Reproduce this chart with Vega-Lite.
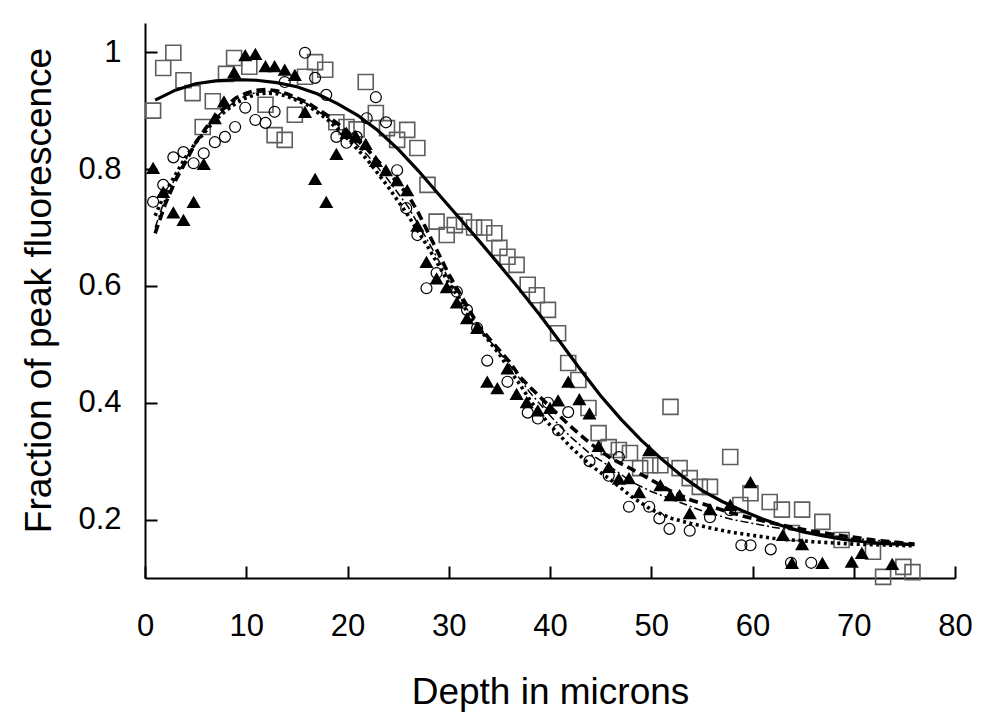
{
"$schema": "https://vega.github.io/schema/vega-lite/v6.json",
"width": 810, "height": 555,
"autosize": {"type": "none"},
"padding": {"left": 145, "top": 23, "right": 34, "bottom": 150},
"background": "white",
"config": {"view": {"stroke": null},
 "axis": {"grid": false, "domainColor": "black", "tickColor": "black", "labelColor": "black", "titleColor": "black", "labelFont": "Liberation Sans", "titleFont": "Liberation Sans", "labelFontWeight": "normal", "titleFontWeight": "normal", "domainWidth": 2, "tickWidth": 2}},
"datasets": {
"pts": [
{"s":"sq","x":0.8,"y":0.90},{"s":"sq","x":1.8,"y":0.973},{"s":"sq","x":2.8,"y":0.999},{"s":"sq","x":3.8,"y":0.952},{"s":"sq","x":4.7,"y":0.93},{"s":"sq","x":5.7,"y":0.872},{"s":"sq","x":6.7,"y":0.916},{"s":"sq","x":8,"y":0.963},{"s":"sq","x":8.8,"y":0.99},{"s":"sq","x":10.3,"y":0.975},{"s":"sq","x":11.9,"y":0.91},{"s":"sq","x":12.8,"y":0.858},{"s":"sq","x":13.8,"y":0.85},{"s":"sq","x":14.8,"y":0.893},{"s":"sq","x":15.8,"y":0.958},{"s":"sq","x":16.8,"y":0.983},{"s":"sq","x":17.8,"y":0.97},{"s":"sq","x":18.9,"y":0.88},{"s":"sq","x":19.9,"y":0.872},{"s":"sq","x":20.9,"y":0.868},{"s":"sq","x":21.8,"y":0.949},{"s":"sq","x":22.8,"y":0.896},{"s":"sq","x":23.9,"y":0.87},{"s":"sq","x":24.9,"y":0.85},{"s":"sq","x":25.9,"y":0.867},{"s":"sq","x":26.9,"y":0.836},{"s":"sq","x":27.9,"y":0.773},{"s":"sq","x":28.8,"y":0.71},{"s":"sq","x":29.8,"y":0.687},{"s":"sq","x":30.6,"y":0.704},{"s":"sq","x":31.5,"y":0.71},{"s":"sq","x":32.5,"y":0.70},{"s":"sq","x":33.5,"y":0.70},{"s":"sq","x":34.5,"y":0.69},{"s":"sq","x":35.0,"y":0.665},{"s":"sq","x":35.8,"y":0.65},{"s":"sq","x":36.7,"y":0.636},{"s":"sq","x":37.8,"y":0.602},{"s":"sq","x":38.7,"y":0.584},{"s":"sq","x":39.8,"y":0.559},{"s":"sq","x":40.8,"y":0.519},{"s":"sq","x":41.8,"y":0.468},{"s":"sq","x":42.8,"y":0.439},{"s":"sq","x":43.8,"y":0.391},{"s":"sq","x":44.8,"y":0.348},{"s":"sq","x":45.8,"y":0.324},{"s":"sq","x":46.8,"y":0.319},{"s":"sq","x":47.9,"y":0.314},{"s":"sq","x":48.9,"y":0.288},{"s":"sq","x":49.9,"y":0.293},{"s":"sq","x":50.9,"y":0.293},{"s":"sq","x":51.9,"y":0.393},{"s":"sq","x":52.8,"y":0.288},{"s":"sq","x":53.8,"y":0.271},{"s":"sq","x":54.8,"y":0.256},{"s":"sq","x":55.8,"y":0.256},{"s":"sq","x":57.8,"y":0.307},{"s":"sq","x":58.8,"y":0.225},{"s":"sq","x":59.8,"y":0.245},{"s":"sq","x":61.7,"y":0.23},{"s":"sq","x":62.9,"y":0.217},{"s":"sq","x":63.9,"y":0.177},{"s":"sq","x":64.9,"y":0.217},{"s":"sq","x":66.9,"y":0.196},{"s":"sq","x":68.8,"y":0.165},{"s":"sq","x":71.9,"y":0.145},{"s":"sq","x":72.9,"y":0.102},{"s":"sq","x":74.9,"y":0.119},{"s":"sq","x":75.8,"y":0.11},
{"s":"ci","x":0.8,"y":0.744},{"s":"ci","x":1.8,"y":0.773},{"s":"ci","x":2.8,"y":0.82},{"s":"ci","x":3.8,"y":0.829},{"s":"ci","x":4.8,"y":0.81},{"s":"ci","x":5.8,"y":0.827},{"s":"ci","x":6.9,"y":0.846},{"s":"ci","x":7.9,"y":0.855},{"s":"ci","x":8.9,"y":0.872},{"s":"ci","x":9.9,"y":0.905},{"s":"ci","x":10.9,"y":0.884},{"s":"ci","x":11.9,"y":0.879},{"s":"ci","x":12.8,"y":0.898},{"s":"ci","x":13.8,"y":0.949},{"s":"ci","x":15.8,"y":0.999},{"s":"ci","x":16.8,"y":0.956},{"s":"ci","x":17.9,"y":0.927},{"s":"ci","x":18.9,"y":0.855},{"s":"ci","x":19.9,"y":0.845},{"s":"ci","x":20.9,"y":0.855},{"s":"ci","x":21.9,"y":0.887},{"s":"ci","x":22.8,"y":0.923},{"s":"ci","x":23.8,"y":0.88},{"s":"ci","x":24.9,"y":0.798},{"s":"ci","x":25.8,"y":0.733},{"s":"ci","x":26.9,"y":0.687},{"s":"ci","x":27.8,"y":0.596},{"s":"ci","x":28.8,"y":0.622},{"s":"ci","x":30.8,"y":0.59},{"s":"ci","x":31.8,"y":0.559},{"s":"ci","x":32.8,"y":0.528},{"s":"ci","x":33.8,"y":0.472},{"s":"ci","x":35.8,"y":0.436},{"s":"ci","x":37.8,"y":0.383},{"s":"ci","x":38.8,"y":0.373},{"s":"ci","x":39.8,"y":0.40},{"s":"ci","x":40.8,"y":0.353},{"s":"ci","x":41.8,"y":0.384},{"s":"ci","x":43.9,"y":0.30},{"s":"ci","x":45.8,"y":0.275},{"s":"ci","x":46.8,"y":0.307},{"s":"ci","x":47.8,"y":0.222},{"s":"ci","x":49.8,"y":0.222},{"s":"ci","x":50.8,"y":0.202},{"s":"ci","x":51.8,"y":0.184},{"s":"ci","x":53.8,"y":0.181},{"s":"ci","x":55.8,"y":0.204},{"s":"ci","x":57.8,"y":0.216},{"s":"ci","x":58.9,"y":0.156},{"s":"ci","x":59.8,"y":0.156},{"s":"ci","x":61.8,"y":0.149},{"s":"ci","x":63.8,"y":0.126},{"s":"ci","x":65.8,"y":0.126},
{"s":"tr","x":0.8,"y":0.802},{"s":"tr","x":1.8,"y":0.761},{"s":"tr","x":2.8,"y":0.726},{"s":"tr","x":3.8,"y":0.713},{"s":"tr","x":4.8,"y":0.744},{"s":"tr","x":5.8,"y":0.809},{"s":"tr","x":6.9,"y":0.887},{"s":"tr","x":7.8,"y":0.916},{"s":"tr","x":8.8,"y":0.966},{"s":"tr","x":9.9,"y":0.995},{"s":"tr","x":10.9,"y":0.997},{"s":"tr","x":11.9,"y":0.976},{"s":"tr","x":12.8,"y":0.976},{"s":"tr","x":13.8,"y":0.97},{"s":"tr","x":14.8,"y":0.961},{"s":"tr","x":15.8,"y":0.898},{"s":"tr","x":16.8,"y":0.783},{"s":"tr","x":17.9,"y":0.744},{"s":"tr","x":18.9,"y":0.826},{"s":"tr","x":19.9,"y":0.862},{"s":"tr","x":20.8,"y":0.857},{"s":"tr","x":21.8,"y":0.843},{"s":"tr","x":22.8,"y":0.814},{"s":"tr","x":23.8,"y":0.798},{"s":"tr","x":24.9,"y":0.781},{"s":"tr","x":25.9,"y":0.764},{"s":"tr","x":26.9,"y":0.703},{"s":"tr","x":27.8,"y":0.641},{"s":"tr","x":28.8,"y":0.613},{"s":"tr","x":29.8,"y":0.598},{"s":"tr","x":30.8,"y":0.572},{"s":"tr","x":31.8,"y":0.545},{"s":"tr","x":32.8,"y":0.528},{"s":"tr","x":33.8,"y":0.436},{"s":"tr","x":34.8,"y":0.425},{"s":"tr","x":35.8,"y":0.459},{"s":"tr","x":36.7,"y":0.415},{"s":"tr","x":37.7,"y":0.401},{"s":"tr","x":38.8,"y":0.387},{"s":"tr","x":40.0,"y":0.391},{"s":"tr","x":40.8,"y":0.404},{"s":"tr","x":41.8,"y":0.436},{"s":"tr","x":42.9,"y":0.406},{"s":"tr","x":43.9,"y":0.382},{"s":"tr","x":44.8,"y":0.326},{"s":"tr","x":45.8,"y":0.29},{"s":"tr","x":46.8,"y":0.27},{"s":"tr","x":47.8,"y":0.271},{"s":"tr","x":48.8,"y":0.247},{"s":"tr","x":49.8,"y":0.319},{"s":"tr","x":50.9,"y":0.259},{"s":"tr","x":51.9,"y":0.242},{"s":"tr","x":52.8,"y":0.242},{"s":"tr","x":53.8,"y":0.211},{"s":"tr","x":55.8,"y":0.218},{"s":"tr","x":57.8,"y":0.225},{"s":"tr","x":59.8,"y":0.264},{"s":"tr","x":63.0,"y":0.174},{"s":"tr","x":64.9,"y":0.158},{"s":"tr","x":63.9,"y":0.126},{"s":"tr","x":66.9,"y":0.126},{"s":"tr","x":69.8,"y":0.128},{"s":"tr","x":70.8,"y":0.143},{"s":"tr","x":73.8,"y":0.124}
],
"fits": [
{"f":"solid","x":1,"y":0.918},{"f":"solid","x":3,"y":0.935},{"f":"solid","x":5,"y":0.946},{"f":"solid","x":7,"y":0.951},{"f":"solid","x":9,"y":0.953},{"f":"solid","x":11,"y":0.952},{"f":"solid","x":13,"y":0.948},{"f":"solid","x":15,"y":0.941},{"f":"solid","x":17,"y":0.929},{"f":"solid","x":19,"y":0.912},{"f":"solid","x":21,"y":0.892},{"f":"solid","x":23,"y":0.866},{"f":"solid","x":25,"y":0.834},{"f":"solid","x":27,"y":0.797},{"f":"solid","x":29,"y":0.757},{"f":"solid","x":31,"y":0.717},{"f":"solid","x":33,"y":0.677},{"f":"solid","x":35,"y":0.636},{"f":"solid","x":37,"y":0.594},{"f":"solid","x":39,"y":0.55},{"f":"solid","x":41,"y":0.504},{"f":"solid","x":43,"y":0.457},{"f":"solid","x":45,"y":0.412},{"f":"solid","x":47,"y":0.372},{"f":"solid","x":49,"y":0.336},{"f":"solid","x":51,"y":0.304},{"f":"solid","x":53,"y":0.275},{"f":"solid","x":55,"y":0.25},{"f":"solid","x":57,"y":0.231},{"f":"solid","x":59,"y":0.215},{"f":"solid","x":61,"y":0.201},{"f":"solid","x":63,"y":0.189},{"f":"solid","x":65,"y":0.179},{"f":"solid","x":67,"y":0.172},{"f":"solid","x":69,"y":0.166},{"f":"solid","x":71,"y":0.162},{"f":"solid","x":73,"y":0.159},{"f":"solid","x":76,"y":0.157},
{"f":"dash","x":1,"y":0.69},{"f":"dash","x":2,"y":0.74},{"f":"dash","x":3,"y":0.78},{"f":"dash","x":4,"y":0.812},{"f":"dash","x":5,"y":0.845},{"f":"dash","x":6,"y":0.87},{"f":"dash","x":7,"y":0.89},{"f":"dash","x":8,"y":0.908},{"f":"dash","x":9,"y":0.922},{"f":"dash","x":10,"y":0.93},{"f":"dash","x":11,"y":0.935},{"f":"dash","x":12,"y":0.936},{"f":"dash","x":13,"y":0.934},{"f":"dash","x":14,"y":0.929},{"f":"dash","x":16,"y":0.914},{"f":"dash","x":18,"y":0.892},{"f":"dash","x":20,"y":0.864},{"f":"dash","x":22,"y":0.833},{"f":"dash","x":24,"y":0.795},{"f":"dash","x":26,"y":0.755},{"f":"dash","x":27,"y":0.725},{"f":"dash","x":28,"y":0.69},{"f":"dash","x":29,"y":0.655},{"f":"dash","x":30,"y":0.62},{"f":"dash","x":31,"y":0.59},{"f":"dash","x":32,"y":0.56},{"f":"dash","x":33,"y":0.53},{"f":"dash","x":34,"y":0.51},{"f":"dash","x":35,"y":0.49},{"f":"dash","x":36,"y":0.47},{"f":"dash","x":37,"y":0.445},{"f":"dash","x":38,"y":0.427},{"f":"dash","x":40,"y":0.393},{"f":"dash","x":42,"y":0.36},{"f":"dash","x":44,"y":0.33},{"f":"dash","x":46,"y":0.305},{"f":"dash","x":48,"y":0.287},{"f":"dash","x":50,"y":0.268},{"f":"dash","x":52,"y":0.248},{"f":"dash","x":54,"y":0.233},{"f":"dash","x":56,"y":0.222},{"f":"dash","x":58,"y":0.211},{"f":"dash","x":60,"y":0.202},{"f":"dash","x":63,"y":0.19},{"f":"dash","x":66,"y":0.18},{"f":"dash","x":69,"y":0.172},{"f":"dash","x":72,"y":0.165},{"f":"dash","x":76,"y":0.158},
{"f":"dot","x":1,"y":0.72},{"f":"dot","x":2,"y":0.76},{"f":"dot","x":3,"y":0.79},{"f":"dot","x":4,"y":0.82},{"f":"dot","x":5,"y":0.845},{"f":"dot","x":6,"y":0.865},{"f":"dot","x":7,"y":0.885},{"f":"dot","x":8,"y":0.9},{"f":"dot","x":9,"y":0.913},{"f":"dot","x":10,"y":0.922},{"f":"dot","x":11,"y":0.928},{"f":"dot","x":12,"y":0.93},{"f":"dot","x":13,"y":0.929},{"f":"dot","x":14,"y":0.925},{"f":"dot","x":16,"y":0.91},{"f":"dot","x":18,"y":0.885},{"f":"dot","x":20,"y":0.852},{"f":"dot","x":22,"y":0.815},{"f":"dot","x":24,"y":0.77},{"f":"dot","x":26,"y":0.72},{"f":"dot","x":28,"y":0.665},{"f":"dot","x":29,"y":0.635},{"f":"dot","x":30,"y":0.605},{"f":"dot","x":31,"y":0.58},{"f":"dot","x":32,"y":0.55},{"f":"dot","x":33,"y":0.527},{"f":"dot","x":34,"y":0.505},{"f":"dot","x":35,"y":0.483},{"f":"dot","x":36,"y":0.456},{"f":"dot","x":37,"y":0.432},{"f":"dot","x":38,"y":0.405},{"f":"dot","x":39,"y":0.382},{"f":"dot","x":40,"y":0.362},{"f":"dot","x":42,"y":0.325},{"f":"dot","x":44,"y":0.293},{"f":"dot","x":46,"y":0.268},{"f":"dot","x":48,"y":0.24},{"f":"dot","x":50,"y":0.217},{"f":"dot","x":52,"y":0.202},{"f":"dot","x":54,"y":0.193},{"f":"dot","x":56,"y":0.185},{"f":"dot","x":58,"y":0.178},{"f":"dot","x":62,"y":0.168},{"f":"dot","x":66,"y":0.162},{"f":"dot","x":70,"y":0.158},{"f":"dot","x":76,"y":0.155},
{"f":"dashdot","x":1,"y":0.70},{"f":"dashdot","x":2,"y":0.75},{"f":"dashdot","x":3,"y":0.785},{"f":"dashdot","x":4,"y":0.815},{"f":"dashdot","x":5,"y":0.843},{"f":"dashdot","x":6,"y":0.868},{"f":"dashdot","x":7,"y":0.888},{"f":"dashdot","x":8,"y":0.904},{"f":"dashdot","x":9,"y":0.917},{"f":"dashdot","x":10,"y":0.926},{"f":"dashdot","x":11,"y":0.931},{"f":"dashdot","x":12,"y":0.933},{"f":"dashdot","x":13,"y":0.932},{"f":"dashdot","x":14,"y":0.927},{"f":"dashdot","x":16,"y":0.912},{"f":"dashdot","x":18,"y":0.888},{"f":"dashdot","x":20,"y":0.858},{"f":"dashdot","x":22,"y":0.823},{"f":"dashdot","x":24,"y":0.782},{"f":"dashdot","x":26,"y":0.735},{"f":"dashdot","x":28,"y":0.675},{"f":"dashdot","x":30,"y":0.612},{"f":"dashdot","x":32,"y":0.555},{"f":"dashdot","x":34,"y":0.507},{"f":"dashdot","x":36,"y":0.465},{"f":"dashdot","x":38,"y":0.418},{"f":"dashdot","x":40,"y":0.378},{"f":"dashdot","x":42,"y":0.342},{"f":"dashdot","x":44,"y":0.312},{"f":"dashdot","x":46,"y":0.29},{"f":"dashdot","x":48,"y":0.265},{"f":"dashdot","x":50,"y":0.248},{"f":"dashdot","x":52,"y":0.235},{"f":"dashdot","x":55,"y":0.215},{"f":"dashdot","x":58,"y":0.2},{"f":"dashdot","x":62,"y":0.187},{"f":"dashdot","x":66,"y":0.177},{"f":"dashdot","x":70,"y":0.168},{"f":"dashdot","x":76,"y":0.158}
]},
"encoding": {
 "x": {"field": "x", "type": "quantitative", "scale": {"domain": [0, 80], "nice": false, "zero": false},
  "axis": {"values": [0,10,20,30,40,50,60,70,80], "tickSize": -12, "labelPadding": 45, "labelFontSize": 31, "labelFlush": false, "labelOverlap": false, "title": "Depth in microns", "titleFontSize": 37, "titleX": 405, "titleY": 125, "titleBaseline": "alphabetic", "titleAlign": "center"}},
 "y": {"field": "y", "type": "quantitative", "scale": {"domain": [0.1, 1.05], "nice": false, "zero": false},
  "axis": {"values": [0.2,0.4,0.6,0.8,1], "format": "~g", "tickSize": -12, "labelPadding": 36, "labelFontSize": 31, "labelFlush": false, "labelOverlap": false, "title": "Fraction of peak fluorescence", "titleFontSize": 37, "titleAngle": -90, "titleX": -95, "titleY": 267, "titleBaseline": "alphabetic", "titleAlign": "center"}}
},
"layer": [
 {"data": {"name": "pts"}, "transform": [{"filter": "datum.s == 'sq'"}], "mark": {"type": "point", "shape": "square", "size": 225, "filled": false, "stroke": "#5e5e5e", "strokeWidth": 1.6, "opacity": 1}},
 {"data": {"name": "pts"}, "transform": [{"filter": "datum.s == 'ci'"}], "mark": {"type": "point", "shape": "circle", "size": 120, "filled": false, "stroke": "black", "strokeWidth": 1.2, "opacity": 1}},
 {"data": {"name": "pts"}, "transform": [{"filter": "datum.s == 'tr'"}], "mark": {"type": "point", "shape": "triangle-up", "size": 200, "filled": true, "fill": "black", "stroke": null, "opacity": 1}},
 {"data": {"name": "fits"}, "transform": [{"filter": "datum.f == 'solid'"}], "mark": {"type": "line", "color": "black", "strokeWidth": 3.2}},
 {"data": {"name": "fits"}, "transform": [{"filter": "datum.f == 'dash'"}], "mark": {"type": "line", "color": "black", "strokeWidth": 3.6, "strokeDash": [9, 5]}},
 {"data": {"name": "fits"}, "transform": [{"filter": "datum.f == 'dot'"}], "mark": {"type": "line", "color": "black", "strokeWidth": 3.6, "strokeDash": [3, 3.5]}},
 {"data": {"name": "fits"}, "transform": [{"filter": "datum.f == 'dashdot'"}], "mark": {"type": "line", "color": "black", "strokeWidth": 1.5, "strokeDash": [8, 3, 2, 3]}}
]
}
